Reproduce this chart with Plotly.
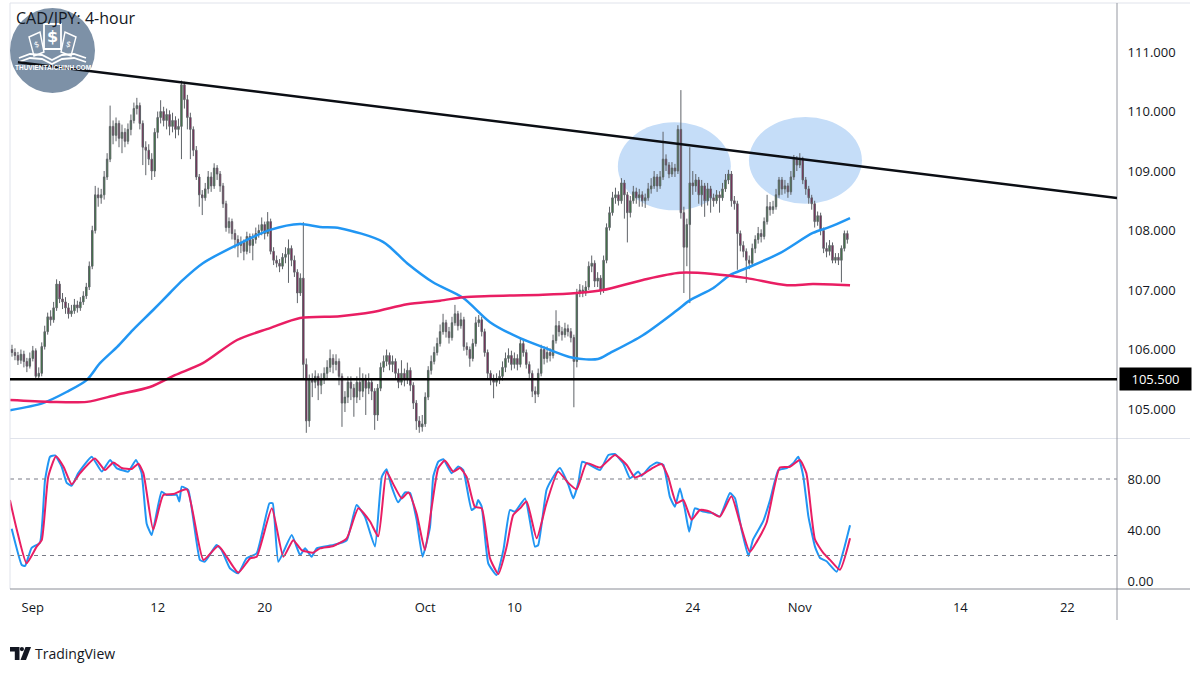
import plotly.graph_objects as go

# ---------------- data ----------------
tick_pos = [7, 49, 85, 139, 169, 229, 265, 319, 355]
tick_text = ["Sep", "12", "20", "Oct", "10", "24", "Nov", "14", "22"]

opens = [
106.00,105.95,105.90,105.82,105.92,105.80,105.72,105.85,105.98,105.55,
105.60,106.05,106.30,106.55,106.50,106.70,107.10,106.85,106.80,106.70,
106.60,106.65,106.75,106.70,106.80,106.90,107.05,107.40,108.00,108.60,
108.55,108.60,108.90,109.20,109.75,109.60,109.80,109.55,109.65,109.50,
109.70,109.85,110.05,110.10,109.80,109.40,109.35,109.20,109.00,109.65,
109.90,110.00,109.85,109.95,109.75,109.85,109.70,109.75,110.45,110.20,
109.90,109.70,109.35,108.90,108.60,108.55,108.70,108.90,108.75,109.05,
108.95,108.75,108.45,108.05,108.15,107.95,107.85,107.75,107.80,107.65,
107.90,107.75,107.85,107.95,108.00,108.10,107.95,108.15,107.65,107.50,
107.45,107.40,107.55,107.60,107.70,107.50,107.30,106.95,107.20,105.75,
104.80,105.50,105.45,105.55,105.40,105.50,105.60,105.70,105.85,105.75,
105.80,105.55,105.10,105.20,105.45,105.35,105.20,105.45,105.30,105.50,
105.35,105.45,105.30,104.90,105.35,105.70,105.80,105.90,105.75,105.80,
105.60,105.45,105.60,105.50,105.65,105.40,105.10,104.80,104.70,104.75,
105.20,105.65,105.80,105.95,106.10,106.30,106.45,106.30,106.20,106.45,
106.60,106.40,106.50,106.05,106.00,105.85,106.10,106.45,106.50,106.30,
105.95,105.60,105.50,105.45,105.50,105.55,105.70,105.85,105.90,105.75,
105.85,105.75,106.10,105.95,105.75,105.60,105.30,105.25,105.60,106.00,
105.85,105.95,105.90,106.15,106.40,106.30,106.25,106.35,106.30,106.20,
105.80,106.95,107.00,106.95,107.05,107.40,107.45,107.15,107.20,107.00,
107.50,108.05,108.30,108.55,108.60,108.50,108.80,108.60,108.30,108.50,
108.65,108.55,108.60,108.50,108.55,108.70,108.75,108.90,108.75,108.90,
109.20,109.10,108.95,109.05,109.00,109.70,108.30,107.72,108.10,108.80,
108.75,108.85,108.60,108.75,108.50,108.70,108.55,108.50,108.60,108.55,
108.70,108.85,108.95,108.50,108.45,107.95,107.75,107.65,107.50,107.45,
107.70,107.85,107.95,107.90,108.15,108.40,108.35,108.40,108.60,108.85,
108.70,108.75,108.65,108.90,109.20,109.10,109.20,108.85,108.70,108.55,
108.45,108.15,108.25,108.00,107.70,107.65,107.75,107.50,107.55,107.50,
107.70,107.95]

highs = [
106.08,106.02,105.96,106.00,105.98,105.86,105.95,106.06,106.02,105.70,
106.12,106.40,106.62,106.66,106.80,107.18,107.15,106.95,106.88,106.78,
106.75,106.85,106.82,106.88,106.98,107.12,107.48,108.08,108.75,108.72,
108.70,109.00,109.30,110.10,109.85,109.90,109.85,109.78,109.72,109.80,
109.95,110.15,110.23,110.15,109.85,109.50,109.45,109.30,109.72,110.00,
110.19,110.08,110.05,110.02,109.98,109.92,109.88,110.52,110.50,110.28,
109.98,109.75,109.42,108.95,108.68,108.80,109.00,108.98,109.13,109.10,
109.00,108.80,108.50,108.22,108.20,108.02,107.92,107.90,107.85,107.98,
107.95,107.95,108.05,108.10,108.22,108.15,108.31,108.20,107.72,107.58,
107.52,107.62,107.72,107.85,107.75,107.58,107.35,107.28,108.14,105.85,
105.58,105.60,105.65,105.60,105.60,105.70,105.82,106.00,105.92,105.92,
105.85,105.60,105.30,105.55,105.55,105.42,105.55,105.70,105.60,105.58,
105.60,105.52,105.35,105.42,105.78,105.90,106.00,105.95,105.90,105.85,
105.68,105.82,105.68,105.78,105.70,105.45,105.15,104.88,104.90,105.28,
105.72,105.90,106.05,106.20,106.42,106.60,106.50,106.38,106.55,106.75,
106.65,106.62,106.55,106.12,106.05,106.18,106.55,106.58,106.55,106.35,
106.00,105.65,105.58,105.60,105.65,105.80,105.95,106.02,105.98,105.95,
105.92,106.19,106.15,106.00,105.80,105.65,105.38,105.68,106.08,106.05,
106.05,106.02,106.25,106.66,106.48,106.38,106.45,106.42,106.36,106.25,
107.02,107.10,107.08,107.15,107.48,107.58,107.50,107.30,107.25,107.58,
108.12,108.40,108.65,108.72,108.66,108.88,108.85,108.65,108.58,108.75,
108.72,108.70,108.66,108.62,108.80,108.88,109.00,108.95,109.00,109.66,
109.28,109.15,109.15,109.12,109.77,110.36,108.40,108.20,109.40,109.00,
108.95,108.90,108.85,108.80,108.80,108.75,108.62,108.68,108.66,108.80,
108.95,109.02,109.00,108.58,108.50,108.00,107.82,107.70,107.58,107.78,
107.92,108.06,108.02,108.22,108.60,108.48,108.50,108.70,108.90,108.90,
108.85,108.80,109.00,109.27,109.25,109.30,109.24,108.90,108.75,108.60,
108.50,108.32,108.30,108.05,107.80,107.84,107.80,107.62,107.62,107.75,
108.00,108.00]

lows = [
105.88,105.82,105.74,105.76,105.70,105.62,105.68,105.80,105.50,105.50,
105.55,106.00,106.25,106.40,106.45,106.65,106.78,106.68,106.60,106.52,
106.55,106.60,106.62,106.65,106.75,106.85,107.00,107.35,107.95,108.40,
108.45,108.52,108.85,109.15,109.45,109.50,109.40,109.30,109.40,109.45,
109.60,109.80,109.95,109.70,109.10,108.93,109.10,108.85,108.90,109.55,
109.80,109.75,109.70,109.60,109.65,109.55,109.60,109.20,110.05,109.70,
109.20,109.25,108.85,108.40,108.26,108.50,108.62,108.65,108.70,108.85,
108.65,108.38,107.98,107.95,107.85,107.70,107.55,107.62,107.50,107.60,
107.62,107.50,107.78,107.88,107.92,107.85,107.90,107.60,107.42,107.38,
107.30,107.35,107.45,107.12,107.40,107.22,106.78,106.90,105.50,104.60,
104.70,105.20,105.35,105.15,105.25,105.42,105.50,105.62,105.60,105.65,
105.40,104.70,104.95,105.10,105.15,104.87,105.10,105.15,105.20,104.90,
105.25,105.15,104.65,104.80,105.30,105.62,105.72,105.65,105.62,105.50,
105.35,105.40,105.38,105.42,105.30,105.00,104.65,104.60,104.62,104.70,
105.15,105.58,105.75,105.90,106.05,106.25,106.20,106.10,106.15,106.40,
106.32,106.35,105.98,105.90,105.71,105.80,106.05,106.38,106.22,105.88,
105.52,105.40,105.18,105.38,105.42,105.48,105.62,105.78,105.65,105.68,
105.65,105.70,105.88,105.68,105.50,105.20,105.10,105.20,105.55,105.75,
105.78,105.80,105.85,106.10,106.22,106.15,106.20,106.22,106.12,105.03,
105.70,106.88,106.88,106.90,107.00,107.30,107.05,107.05,106.92,106.95,
107.45,108.00,108.25,108.45,108.42,108.45,108.20,107.80,108.22,108.45,
108.45,108.40,108.40,108.38,108.50,108.62,108.70,108.65,108.70,108.85,
109.00,108.88,108.90,108.90,108.95,108.20,106.95,107.40,106.78,108.60,
108.65,108.45,108.40,108.23,108.42,108.30,108.40,108.45,108.30,108.50,
108.65,108.78,108.40,108.35,107.34,107.65,107.55,107.12,107.35,107.40,
107.62,107.78,107.80,107.85,108.10,108.25,108.28,108.35,108.55,108.60,
108.62,108.55,108.60,108.85,109.00,109.05,108.78,108.60,108.45,108.35,
108.05,108.08,107.92,107.62,107.55,107.58,107.45,107.45,107.42,107.13,
107.65,107.78]

closes = [
105.95,105.90,105.82,105.92,105.80,105.72,105.85,105.98,105.55,105.60,
106.05,106.30,106.55,106.50,106.70,107.10,106.85,106.80,106.70,106.60,
106.65,106.75,106.70,106.80,106.90,107.05,107.40,108.00,108.60,108.55,
108.60,108.90,109.20,109.75,109.60,109.80,109.55,109.65,109.50,109.70,
109.85,110.05,110.10,109.80,109.40,109.35,109.20,109.00,109.65,109.90,
110.00,109.85,109.95,109.75,109.85,109.70,109.75,110.45,110.20,109.90,
109.70,109.35,108.90,108.60,108.55,108.70,108.90,108.75,109.05,108.95,
108.75,108.45,108.05,108.15,107.95,107.85,107.75,107.80,107.65,107.90,
107.75,107.85,107.95,108.00,108.10,107.95,108.15,107.65,107.50,107.45,
107.40,107.55,107.60,107.70,107.50,107.30,106.95,107.20,105.75,104.80,
105.50,105.45,105.55,105.40,105.50,105.60,105.70,105.85,105.75,105.80,
105.55,105.10,105.20,105.45,105.35,105.20,105.45,105.30,105.50,105.35,
105.45,105.30,104.90,105.35,105.70,105.80,105.90,105.75,105.80,105.60,
105.45,105.60,105.50,105.65,105.40,105.10,104.80,104.70,104.75,105.20,
105.65,105.80,105.95,106.10,106.30,106.45,106.30,106.20,106.45,106.60,
106.40,106.50,106.05,106.00,105.85,106.10,106.45,106.50,106.30,105.95,
105.60,105.50,105.45,105.50,105.55,105.70,105.85,105.90,105.75,105.85,
105.75,106.10,105.95,105.75,105.60,105.30,105.25,105.60,106.00,105.85,
105.95,105.90,106.15,106.40,106.30,106.25,106.35,106.30,106.20,105.80,
106.95,107.00,106.95,107.05,107.40,107.45,107.15,107.20,107.00,107.50,
108.05,108.30,108.55,108.60,108.50,108.80,108.60,108.30,108.50,108.65,
108.55,108.60,108.50,108.55,108.70,108.75,108.90,108.75,108.90,109.20,
109.10,108.95,109.05,109.00,109.70,108.30,107.72,108.10,108.80,108.75,
108.85,108.60,108.75,108.50,108.70,108.55,108.50,108.60,108.55,108.70,
108.85,108.95,108.50,108.45,107.95,107.75,107.65,107.50,107.45,107.70,
107.85,107.95,107.90,108.15,108.40,108.35,108.40,108.60,108.85,108.70,
108.75,108.65,108.90,109.20,109.10,109.20,108.85,108.70,108.55,108.45,
108.15,108.25,108.00,107.70,107.65,107.75,107.50,107.55,107.50,107.70,
107.95,107.85]

# moving averages (bar index, price)
ma_fast_bar = [-0.7, 10.4, 18.5, 25.2, 29.6, 35.3, 40.7, 47.4, 53.1, 57.5, 64.2, 75.7,
               86.8, 96.9, 103.6, 110.3, 124.8, 132.9, 141.6, 151.7, 160.8, 170.9,
               178.6, 188.7, 197.1, 201.1, 212.2, 223.7, 228.1, 235.8, 241.5, 247.2,
               258.3, 269.4, 275.1, 281.9]
ma_fast = [104.98, 105.10, 105.29, 105.49, 105.77, 106.04, 106.33, 106.66, 106.95, 107.17,
           107.45, 107.76, 108.01, 108.11, 108.06, 108.04, 107.81, 107.45, 107.13, 106.87,
           106.46, 106.19, 106.04, 105.86, 105.84, 105.94, 106.24, 106.66, 106.83, 107.03,
           107.25, 107.37, 107.62, 107.96, 108.06, 108.21]

ma_slow_bar = [-0.7, 12.8, 25.2, 35.3, 46.4, 54.8, 64.2, 75.7, 86.8, 96.9, 110.3, 121.4,
               132.9, 144.0, 151.7, 160.8, 178.6, 190.0, 198.8, 212.2, 224.7, 235.8,
               247.2, 260.7, 269.4, 281.9]
ma_slow = [105.15, 105.12, 105.12, 105.24, 105.37, 105.57, 105.77, 106.16, 106.36, 106.53,
           106.56, 106.63, 106.76, 106.82, 106.88, 106.90, 106.92, 106.95, 107.00, 107.17,
           107.29, 107.27, 107.20, 107.08, 107.10, 107.08]

# stochastic %K / %D (bar index, value)
stoch_k_bar = [-0.1, 3.3, 4.4, 6.6, 9.4, 11.1, 12.8, 14.5, 16.7, 18.4, 20.1, 22.3, 26.8, 30.2,
               33.0, 35.2, 39.1, 41.7, 43.6, 45.3, 47.0, 50.3, 52.0, 55.4, 56.3, 57.1, 59.3,
               63.2, 64.9, 68.8, 70.5, 73.3, 76.1, 78.9, 82.3, 86.6, 87.7, 89.6, 94.1, 96.9,
               98.6, 100.8, 102.5, 108.1, 112.6, 115.9, 118.7, 122.1, 124.4, 126.0, 127.7,
               129.9, 132.2, 133.9, 136.1, 138.1, 140.6, 141.7, 143.4, 145.1, 147.9, 150.1,
               151.8, 154.6, 156.1, 156.8, 158.0, 160.2, 163.0, 165.3, 167.5, 169.2, 172.6,
               175.9, 177.0, 179.8, 182.1, 184.3, 187.1, 188.8, 190.5, 191.8, 193.3, 197.8,
               200.6, 202.8, 205.6, 207.9, 210.7, 211.8, 214.6, 216.9, 219.1, 221.3, 223.0,
               224.7, 226.4, 227.8, 229.7, 232.5, 235.9, 238.1, 241.5, 243.2, 245.4, 247.7,
               249.3, 252.7, 255.0, 257.8, 260.6, 262.8, 264.5, 266.2, 267.9, 270.1, 271.8,
               274.0, 277.4, 279.6, 281.9]
stoch_k = [41, 12.5, 11.8, 26, 30, 79, 97.5, 98.5, 89.7, 77, 74.8, 84.6, 97.5, 85.8,
           95, 88.6, 85.8, 95, 84.6, 45, 36, 70, 67.5, 67.5, 62.3, 74, 71.4,
           16.5, 15.2, 28.2, 24.3, 10, 6, 17.8, 21.7, 61, 61, 15, 36, 20.4,
           25.6, 19, 25.6, 28.2, 32, 59.6, 50.5, 27, 81.8, 87.6, 74,
           61.7, 69.5, 69, 48, 19, 42, 81.8, 93.6, 95.5, 84.6, 89.8,
           87, 55.7, 58.3, 63.5, 58.3, 13.9, 4.7, 24.3, 55.7, 54.4, 64.8,
           27, 28.2, 71.4, 81.8, 88.6, 75.8, 64.8, 77, 93.6, 92.4, 87,
           98.8, 99.6, 92.4, 80.6, 85.8, 82.4, 89.8, 93, 91, 66, 58.3,
           72.6, 55.7, 38.7, 57, 54.4, 53, 50.5, 69, 65, 40.4, 19.6,
           32.6, 46.9, 63.5, 87, 88.6, 92.4, 97.5, 81.8, 50.5, 27, 18,
           15.5, 7.3, 22.9, 43.8]

stoch_d_bar = [-0.7, 1.6, 4.9, 8.3, 10.0, 12.2, 14.8, 17.3, 20.1, 22.9, 27.9, 31.3, 34.1,
               36.9, 40.3, 42.5, 44.2, 47.5, 50.9, 54.3, 58.8, 64.4, 69.4, 76.1, 80.1, 82.3,
               87.4, 91.3, 94.6, 97.4, 101.3, 103.6, 108.1, 112.6, 116.5, 120.4, 123.2,
               126.0, 128.3, 131.1, 133.3, 136.1, 138.9, 141.2, 143.4, 145.6, 148.4, 150.7,
               152.9, 155.7, 158.0, 160.8, 163.6, 166.4, 168.6, 170.9, 173.1, 176.5, 179.8,
               183.7, 187.1, 189.9, 193.3, 197.8, 202.8, 206.8, 209.5, 212.3, 215.7, 218.5,
               220.7, 223.5, 225.8, 228.6, 231.4, 234.8, 238.1, 242.0, 244.9, 248.2, 250.5,
               253.8, 258.3, 261.7, 265.0, 267.2, 270.1, 272.9, 275.1, 278.5, 281.9]
stoch_d = [63.5, 40.4, 13.9, 27, 32, 81.8, 97.8, 89.8, 75.8, 84.6, 96.1, 87, 93,
           88.6, 87.9, 92, 84.6, 40.4, 67.5, 68.2, 71.9, 16.5, 27.5, 6.6, 17.8, 19,
           57, 19, 32, 24.3, 22.2, 25.6, 27.5, 33.5, 57, 46.9, 35,
           85.8, 75.8, 64.8, 69.5, 53, 24.3, 58.3, 88.6, 94.5, 85.8, 88.6,
           81.8, 58.3, 57, 17.8, 5.5, 27, 51.7, 57, 62.3, 33.5, 61,
           85.8, 77, 71.9, 92.4, 89, 98.8, 91, 81.2, 83.8, 89, 91.8,
           81.8, 61, 63.5, 48.1, 55.7, 54.4, 50.5, 66.4, 45.5, 22.9, 30.7,
           45.5, 89, 89.6, 94.9, 84.6, 32.6, 22, 16.8, 8.8, 33.5]

# drawings
trend_bars = [2.0, 371.7]
trend_prices = [110.83, 108.546]
support_level = 105.5
zone_bars = [(203.8, 241.8), (247.9, 285.9)]
zone_prices = [(108.34, 109.82), (108.45, 109.91)]

price_ticks = [105, 106, 107, 108, 109, 110, 111]
stoch_ticks = [0, 40, 80]
stoch_bands = [20, 80]

# ---------------- figure ----------------
W, H = 1200, 675
L, R, T, B = 10, 1117, 3, 589
FONT = "Open Sans"
TXT = "#131722"


def px(xp):
    return (xp - L) / (R - L)


def py(yp):
    return (B - yp) / (B - T)


bars = list(range(len(closes)))

fig = go.Figure()
fig.add_trace(go.Candlestick(
    x=bars, open=opens, high=highs, low=lows, close=closes,
    increasing=dict(fillcolor="#2e7d32", line=dict(color="#5f6368", width=1)),
    decreasing=dict(fillcolor="#880e4f", line=dict(color="#5f6368", width=1)),
    whiskerwidth=0, showlegend=False, hoverinfo="skip", xaxis="x", yaxis="y"))

fig.add_trace(go.Scatter(x=ma_fast_bar, y=ma_fast, mode="lines",
                         line=dict(color="#2196f3", width=2.5, shape="spline", smoothing=0.8),
                         hoverinfo="skip", xaxis="x", yaxis="y"))
fig.add_trace(go.Scatter(x=ma_slow_bar, y=ma_slow, mode="lines",
                         line=dict(color="#e91e63", width=2.5, shape="spline", smoothing=0.8),
                         hoverinfo="skip", xaxis="x", yaxis="y"))

fig.add_trace(go.Scatter(x=stoch_k_bar, y=stoch_k, mode="lines",
                         line=dict(color="#2196f3", width=2, shape="spline", smoothing=0.4),
                         hoverinfo="skip", xaxis="x", yaxis="y2"))
fig.add_trace(go.Scatter(x=stoch_d_bar, y=stoch_d, mode="lines",
                         line=dict(color="#e91e63", width=2, shape="spline", smoothing=0.5),
                         hoverinfo="skip", xaxis="x", yaxis="y2"))

shapes = []
# highlight zones
for (xa, xb), (ya, yb) in zip(zone_bars, zone_prices):
    shapes.append(dict(type="circle", xref="x", yref="y", x0=xa, x1=xb, y0=ya, y1=yb,
                       fillcolor="#c5ddf8", line=dict(width=0), layer="below"))
# stochastic bands
for v in stoch_bands:
    shapes.append(dict(type="line", xref="paper", yref="y2", x0=0, x1=1, y0=v, y1=v,
                       line=dict(color="#787b86", width=1, dash="4px,4px")))

# frame lines (pixel positions converted to paper)
frame_col = "#e0e3eb"
shapes += [
    dict(type="line", xref="paper", yref="paper", x0=px(10), x1=px(1190), y0=py(3), y1=py(3),
         line=dict(color=frame_col, width=1)),
    dict(type="line", xref="paper", yref="paper", x0=px(10), x1=px(10), y0=py(3), y1=py(589),
         line=dict(color=frame_col, width=1)),
    dict(type="line", xref="paper", yref="paper", x0=px(10), x1=px(1190), y0=py(438.5), y1=py(438.5),
         line=dict(color=frame_col, width=1)),
    dict(type="line", xref="paper", yref="paper", x0=px(1117), x1=px(1117), y0=py(3), y1=py(620),
         line=dict(color="#9598a1", width=1)),
    dict(type="line", xref="paper", yref="paper", x0=px(10), x1=px(1190), y0=py(589), y1=py(589),
         line=dict(color="#8a8d96", width=1)),
]

# watermark logo (decoration)
shapes.append(dict(type="circle", xref="paper", yref="paper", x0=px(10), x1=px(95),
                   y0=py(93), y1=py(8), fillcolor="#7d91a7", line=dict(width=0), layer="above"))


def ppath(points, close=False):
    s = "M " + " L ".join(f"{px(a):.5f},{py(b):.5f}" for a, b in points)
    return s + (" Z" if close else "")


# central bank note
shapes.append(dict(type="path", xref="paper", yref="paper",
                   path=ppath([(44, 24), (61, 24), (61, 49), (44, 49)], close=True),
                   line=dict(color="white", width=1.8), fillcolor="rgba(0,0,0,0)"))
# side notes
shapes.append(dict(type="path", xref="paper", yref="paper",
                   path=ppath([(29, 37), (40, 32), (44, 52), (34, 56)], close=True),
                   line=dict(color="white", width=1.4), fillcolor="rgba(0,0,0,0)"))
shapes.append(dict(type="path", xref="paper", yref="paper",
                   path=ppath([(76, 37), (65, 32), (61, 52), (71, 56)], close=True),
                   line=dict(color="white", width=1.4), fillcolor="rgba(0,0,0,0)"))
# book pages
for off in (0, 4):
    shapes.append(dict(type="path", xref="paper", yref="paper",
                       path=ppath([(19, 58 + off), (30, 54 + off), (42, 55 + off), (52, 60 + off),
                                   (62, 55 + off), (74, 54 + off), (86, 58 + off)]),
                       line=dict(color="white", width=1.8)))

# TradingView mark
shapes += [
    dict(type="path", xref="paper", yref="paper",
         path=ppath([(10, 647), (19.5, 647), (19.5, 660), (14.8, 660), (14.8, 651.5), (10, 651.5)], close=True),
         fillcolor="#131722", line=dict(width=0)),
    dict(type="circle", xref="paper", yref="paper", x0=px(19.8), x1=px(24), y0=py(651.2), y1=py(647),
         fillcolor="#131722", line=dict(width=0)),
    dict(type="path", xref="paper", yref="paper",
         path=ppath([(25.5, 647), (31, 647), (26, 660), (20.5, 660)], close=True),
         fillcolor="#131722", line=dict(width=0)),
]

# trendline and support line
shapes.append(dict(type="line", xref="x", yref="y", x0=trend_bars[0], x1=trend_bars[1],
                   y0=trend_prices[0], y1=trend_prices[1], line=dict(color="#0b0e14", width=2.5)))
shapes.append(dict(type="line", xref="paper", yref="y", x0=0, x1=1,
                   y0=support_level, y1=support_level, line=dict(color="#000000", width=2.5)))

annotations = [
    dict(xref="paper", yref="paper", x=px(14), y=py(18), xanchor="left", yanchor="middle",
         text="CAD/JPY: 4-hour", showarrow=False, font=dict(family=FONT, size=16, color=TXT)),
    dict(xref="paper", yref="y", x=px(1118.5), y=support_level, xanchor="left", yanchor="middle",
         text=f"{support_level:.3f}", showarrow=False, bgcolor="#000000", borderpad=3,
         width=65, height=16, align="center", font=dict(family=FONT, size=13, color="white")),
    dict(xref="paper", yref="paper", x=px(33), y=py(653.5), xanchor="left", yanchor="middle",
         text="TradingView", showarrow=False, font=dict(family=FONT, size=14, color=TXT)),
    dict(xref="paper", yref="paper", x=px(52.5), y=py(36.5), xanchor="center", yanchor="middle",
         text="<b>$</b>", showarrow=False, font=dict(family="DejaVu Sans", size=16, color="white")),
    dict(xref="paper", yref="paper", x=px(36.5), y=py(44), xanchor="center", yanchor="middle",
         text="$", showarrow=False, textangle=-18, font=dict(family="DejaVu Sans", size=8, color="white")),
    dict(xref="paper", yref="paper", x=px(68.5), y=py(44), xanchor="center", yanchor="middle",
         text="$", showarrow=False, textangle=18, font=dict(family="DejaVu Sans", size=8, color="white")),
    dict(xref="paper", yref="paper", x=px(52.5), y=py(68), xanchor="center", yanchor="middle",
         text="<b>THUVIENTAICHINH.COM</b>", showarrow=False,
         font=dict(family="Liberation Sans", size=6.5, color="white")),
]

fig.update_layout(
    width=W, height=H,
    margin=dict(l=L, r=W - R, t=T, b=H - B, pad=0),
    paper_bgcolor="white", plot_bgcolor="white",
    showlegend=False,
    shapes=shapes, annotations=annotations,
    xaxis=dict(domain=[0, 1], anchor="y2", range=[-0.67, 371.7],
               tickvals=tick_pos, ticktext=tick_text,
               showgrid=False, zeroline=False, showline=False,
               ticks="outside", ticklen=6, tickcolor="rgba(0,0,0,0)",
               tickfont=dict(family=FONT, size=13, color=TXT),
               rangeslider=dict(visible=False), fixedrange=True),
    yaxis=dict(domain=[py(438), 1], anchor="x", side="right",
               range=[104.513, 111.824],
               tickvals=price_ticks, ticktext=[f"{v:.3f}" for v in price_ticks],
               showgrid=False, zeroline=False, showline=False,
               ticks="outside", ticklen=7, tickcolor="rgba(0,0,0,0)",
               tickfont=dict(family=FONT, size=13, color=TXT), fixedrange=True),
    yaxis2=dict(domain=[0, py(440)], anchor="x", side="right",
                range=[-6.27, 110.6],
                tickvals=stoch_ticks, ticktext=[f"{v:.2f}" for v in stoch_ticks],
                showgrid=False, zeroline=False, showline=False,
                ticks="outside", ticklen=7, tickcolor="rgba(0,0,0,0)",
                tickfont=dict(family=FONT, size=13, color=TXT), fixedrange=True),
)

fig.write_html("out.html")
